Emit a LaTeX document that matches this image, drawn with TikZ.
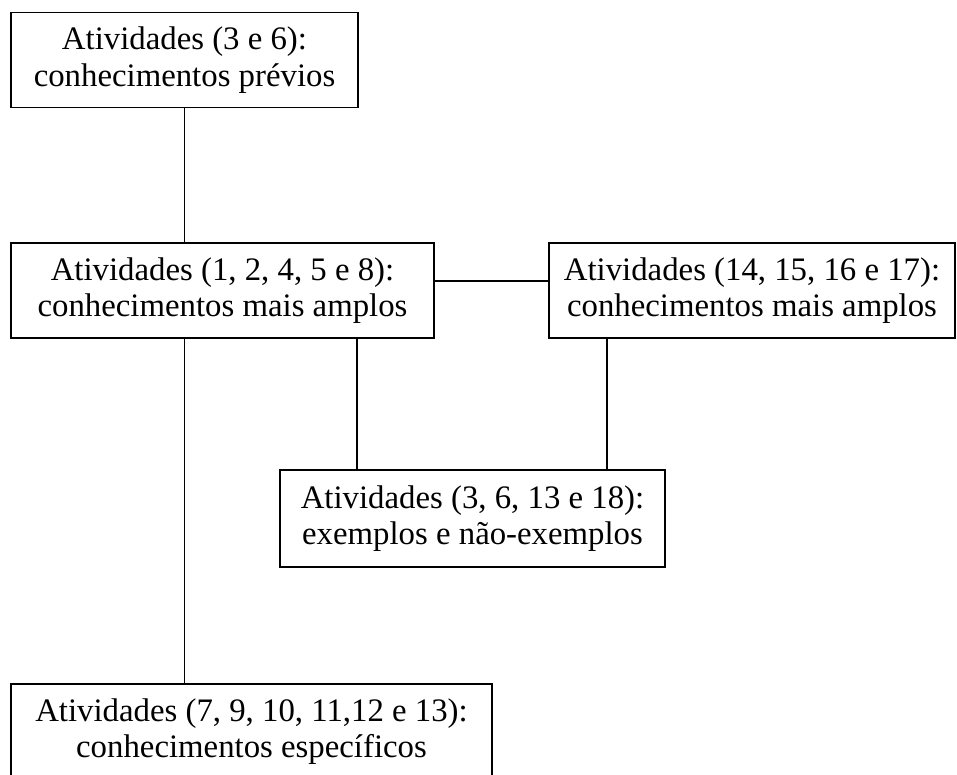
\documentclass[tikz,border=0pt]{standalone}
\usepackage{fontspec}
\setmainfont{Liberation Serif}
\usetikzlibrary{positioning, calc}

\tikzset{
    caixa/.style={draw, line width=1.9pt, align=center, inner sep=0pt,
        minimum height=95pt, font=\fontsize{32.8}{36.5}\selectfont},
    ligacao/.style={line width=1.9pt}
}

\begin{document}
\begin{tikzpicture}[x=1pt, y=-1pt]
    \useasboundingbox (0,0) rectangle (957,774);

    % Caixas
    \node[caixa, minimum width=347pt] (previos) at (184.5,60)
        {Atividades (3 e 6):\\conhecimentos prévios};
    \node[caixa, minimum width=423pt] (amplos) at (222.5,290.5)
        {Atividades (1, 2, 4, 5 e 8):\\conhecimentos mais amplos};
    \node[caixa, minimum width=406pt] (amplosb) at (752,290.5)
        {Atividades (14, 15, 16 e 17):\\conhecimentos mais amplos};
    \node[caixa, minimum width=385pt, minimum height=97pt] (exemplos) at (472.5,518.5)
        {Atividades (3, 6, 13 e 18):\\exemplos e não-exemplos};
    \node[caixa, minimum width=481pt] (especificos) at (251.5,731.5)
        {Atividades (7, 9, 10, 11,12 e 13):\\conhecimentos específicos};

    % Ramos verticais
    \coordinate (ramoA) at (357,0);
    \coordinate (ramoB) at (607,0);

    % Ligacoes
    \draw[ligacao] (previos.south) -- (previos.south |- amplos.north);
    \draw[ligacao] ([yshift=9.5pt]amplos.east) -- ([yshift=9.5pt]amplosb.west);
    \draw[ligacao] (previos.south |- amplos.south) -- (previos.south |- especificos.north);
    \draw[ligacao] (ramoA |- amplos.south) -- (ramoA |- exemplos.north);
    \draw[ligacao] (ramoB |- amplosb.south) -- (ramoB |- exemplos.north);
\end{tikzpicture}
\end{document}
